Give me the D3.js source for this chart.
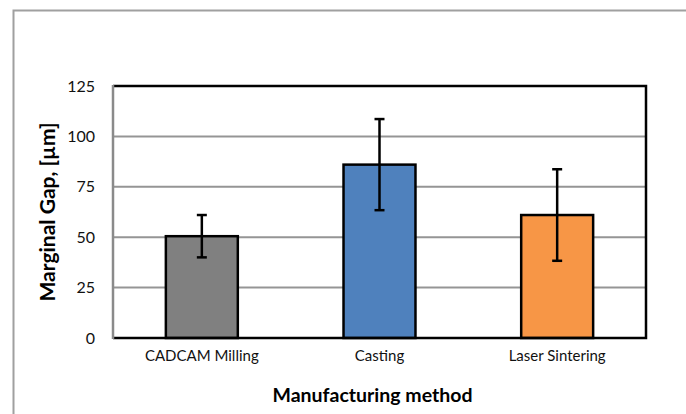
<!DOCTYPE html>
<html>
<head>
<meta charset="utf-8">
<script src="https://cdn.jsdelivr.net/npm/d3@7"></script>
<style>
  body { margin: 0; background: #fff; }
  svg { display: block; font-family: Lato, "Open Sans", sans-serif; }
</style>
</head>
<body>
<div id="chart"></div>
<script>
// data
const categories = ["CADCAM Milling", "Casting", "Laser Sintering"]
const means = [50.5, 86, 61]
const errors = [10.5, 22.6, 22.7]
const barColors = ["#808080", "#4f81bd", "#f79646"]
const yTicks = [0, 25, 50, 75, 100, 125]

const width = 686, height = 414
const margin = { top: 86, right: 40, bottom: 76, left: 113 }

const svg = d3.select("#chart").append("svg")
    .attr("width", width)
    .attr("height", height)

// outer chart frame (runs off the right and bottom edges)
svg.append("path")
    .attr("d", `M13.5,${height + 5} V10.5 H${width + 5}`)
    .attr("fill", "none")
    .attr("stroke", "#a0a0a0")
    .attr("stroke-width", 2)

const x = d3.scaleBand()
    .domain(categories)
    .range([margin.left, width - margin.right])
    .padding(0)

const y = d3.scaleLinear()
    .domain([0, 125])
    .range([height - margin.bottom, margin.top])

const barW = x.bandwidth() * 0.405

// gridlines
svg.append("g")
    .selectAll("line")
    .data(yTicks.filter(d => d > 0 && d < 125))
    .enter().append("line")
    .attr("x1", margin.left)
    .attr("x2", width - margin.right)
    .attr("y1", d => y(d))
    .attr("y2", d => y(d))
    .attr("stroke", "#959595")
    .attr("stroke-width", 2)

// y axis labels
const yAxis = svg.append("g")
    .attr("transform", `translate(${margin.left},0)`)
    .call(d3.axisLeft(y).tickValues(yTicks).tickSize(0).tickPadding(18))
yAxis.select(".domain").remove()
yAxis.selectAll("text")
    .attr("font-size", 16)
    .attr("fill", "#111")
    .style("font-family", "Lato, sans-serif")

// bars
svg.append("g")
    .selectAll("rect")
    .data(categories)
    .enter().append("rect")
    .attr("x", d => x(d) + (x.bandwidth() - barW) / 2)
    .attr("width", barW)
    .attr("y", (d, i) => y(means[i]))
    .attr("height", (d, i) => y(0) - y(means[i]))
    .attr("fill", (d, i) => barColors[i])
    .attr("stroke", "#000")
    .attr("stroke-width", 2.5)

// plot frame: black top, right, bottom; grey left axis
const x0 = margin.left, x1 = width - margin.right
svg.append("path")
    .attr("d", `M${x0},${y(125)} H${x1} V${y(0)} H${x0}`)
    .attr("fill", "none")
    .attr("stroke", "#000")
    .attr("stroke-width", 2.5)
svg.append("line")
    .attr("x1", x0).attr("x2", x0)
    .attr("y1", y(125) - 1).attr("y2", y(0) + 1)
    .attr("stroke", "#8a8a8a")
    .attr("stroke-width", 2.5)

// error bars
const err = svg.append("g").attr("stroke", "#000").attr("stroke-width", 2.5)
categories.forEach((c, i) => {
    const cx = x(c) + x.bandwidth() / 2
    err.append("line")
        .attr("x1", cx).attr("x2", cx)
        .attr("y1", y(means[i] + errors[i]))
        .attr("y2", y(means[i] - errors[i]))
    err.append("line")
        .attr("x1", cx - 5).attr("x2", cx + 5)
        .attr("y1", y(means[i] + errors[i]))
        .attr("y2", y(means[i] + errors[i]))
    err.append("line")
        .attr("x1", cx - 5).attr("x2", cx + 5)
        .attr("y1", y(means[i] - errors[i]))
        .attr("y2", y(means[i] - errors[i]))
})

// x category labels
svg.append("g")
    .selectAll("text")
    .data(categories)
    .enter().append("text")
    .attr("x", d => x(d) + x.bandwidth() / 2)
    .attr("y", y(0) + 23)
    .attr("text-anchor", "middle")
    .attr("font-size", 15)
    .attr("fill", "#111")
    .text(d => d)

// axis titles
svg.append("text")
    .attr("x", (x0 + x1) / 2 - 7)
    .attr("y", 402)
    .attr("text-anchor", "middle")
    .attr("font-size", 19.5)
    .attr("font-weight", "bold")
    .attr("fill", "#000")
    .text("Manufacturing method")

svg.append("text")
    .attr("transform", `translate(55,${(y(0) + y(125)) / 2}) rotate(-90)`)
    .attr("text-anchor", "middle")
    .attr("font-size", 21)
    .attr("font-weight", "bold")
    .attr("fill", "#000")
    .text("Marginal Gap, [µm]")
</script>
</body>
</html>
